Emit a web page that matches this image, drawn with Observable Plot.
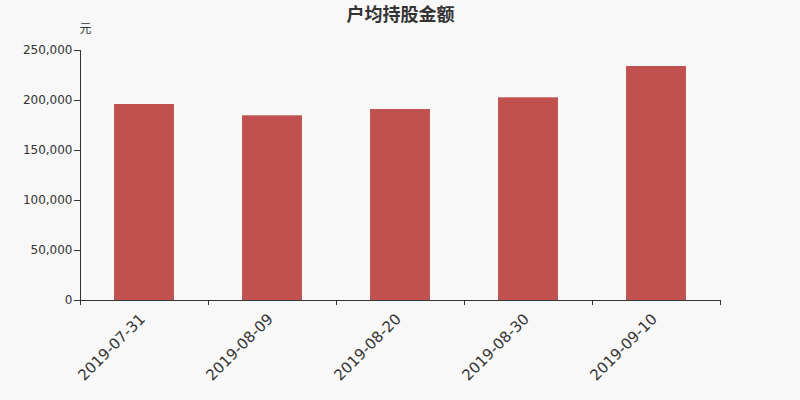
<!DOCTYPE html>
<html>
<head>
<meta charset="utf-8">
<script src="https://cdn.jsdelivr.net/npm/d3@7"></script>
<script src="https://cdn.jsdelivr.net/npm/@observablehq/plot@0.6"></script>
<style>
  html, body { margin: 0; padding: 0; background: #f8f8f8; }
  #chart svg { display: block; }
</style>
</head>
<body>
<div id="chart"></div>
<script>
const title = "户均持股金额";
const unit = "元";
const dates = ["2019-07-31", "2019-08-09", "2019-08-20", "2019-08-30", "2019-09-10"];
const values = [196000, 184700, 191000, 202700, 234000];
const yTicks = [0, 50000, 100000, 150000, 200000, 250000];

const rows = dates.map((d, i) => ({date: d, i, value: values[i]}));
const gap = 0.266;
const font = "'DejaVu Sans', 'Noto Sans CJK SC', sans-serif";

const chart = Plot.plot({
  width: 800,
  height: 400,
  marginLeft: 80,
  marginRight: 80,
  marginTop: 50,
  marginBottom: 100,
  style: {background: "#f8f8f8", fontFamily: font, color: "#333"},
  x: {type: "linear", domain: [0, dates.length]},
  y: {domain: [0, 250000]},
  marks: [
    Plot.rectY(rows, {x1: d => d.i + gap, x2: d => d.i + 1 - gap, y: "value", fill: "#c1514e"}),
    Plot.ruleX([0], {y1: 0, y2: 250000, stroke: "#333"}),
    Plot.ruleY([0], {stroke: "#333"}),
    Plot.axisY({ticks: yTicks, tickFormat: d3.format(","), tickSize: 6, tickPadding: 2, fontSize: 12, stroke: "#333", label: null}),
    Plot.axisX({ticks: d3.range(dates.length + 1), tickFormat: () => "", tickSize: 5, stroke: "#333", label: null}),
    Plot.text(rows, {x: d => d.i + 0.5, y: 0, text: "date", rotate: -45, textAnchor: "end", fontSize: 15, fill: "#333", dx: -2, dy: 16}),
    Plot.text([title], {frameAnchor: "top", dy: -42, fontSize: 18, fontWeight: "bold", fill: "#333"}),
    Plot.text([unit], {frameAnchor: "top-left", dx: -1, dy: -26, fontSize: 12, fill: "#333"})
  ]
});
document.getElementById("chart").appendChild(chart);
</script>
</body>
</html>
